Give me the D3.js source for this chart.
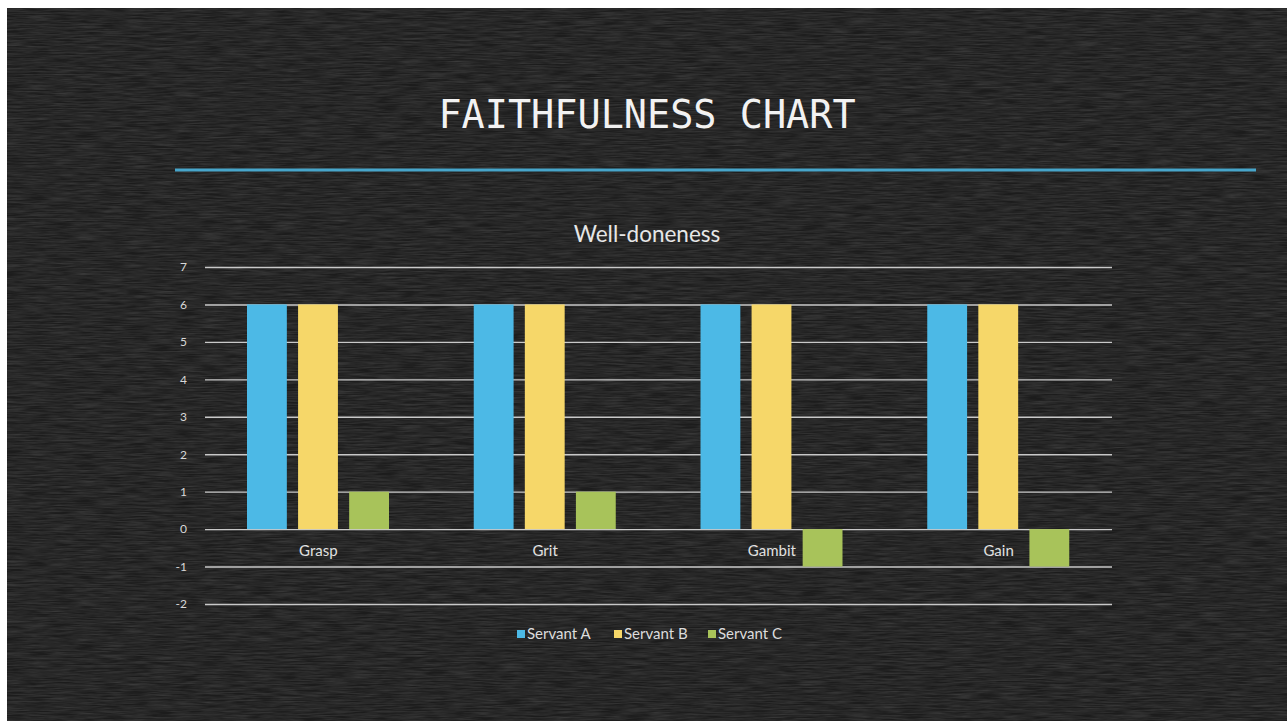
<!DOCTYPE html>
<html>
<head>
<meta charset="utf-8">
<script src="https://cdn.jsdelivr.net/npm/d3@7"></script>
<style>
  html, body { margin: 0; padding: 0; background: #fff; }
  svg { display: block; }
</style>
</head>
<body>
<div id="chart"></div>
<script>
// Data
var categories = ["Grasp", "Grit", "Gambit", "Gain"];
var seriesNames = ["Servant A", "Servant B", "Servant C"];
var servantA = [6, 6, 6, 6];
var servantB = [6, 6, 6, 6];
var servantC = [1, 1, -1, -1];
var yTicks = [-2, -1, 0, 1, 2, 3, 4, 5, 6, 7];

var colors = ["#4cb9e6", "#f6d769", "#a8c35a"];

var W = 1287, H = 721;

var svg = d3.select("#chart")
  .append("svg")
  .attr("width", W)
  .attr("height", H);

// chalkboard texture
var defs = svg.append("defs");
var f = defs.append("filter").attr("id", "chalk").attr("x", 0).attr("y", 0)
  .attr("width", "100%").attr("height", "100%");
f.append("feTurbulence")
  .attr("type", "fractalNoise")
  .attr("baseFrequency", "0.04 0.7")
  .attr("numOctaves", 3)
  .attr("seed", 4);
f.append("feColorMatrix")
  .attr("type", "matrix")
  .attr("values", "0 0 0 0 1  0 0 0 0 1  0 0 0 0 1  0 0 0 0.2 -0.05");
f.append("feComposite").attr("in2", "SourceGraphic").attr("operator", "in");

svg.append("rect").attr("width", W).attr("height", H).attr("fill", "#fff");
svg.append("rect")
  .attr("x", 7).attr("y", 8)
  .attr("width", W - 7).attr("height", H - 8)
  .attr("fill", "#1c1c1c");
svg.append("rect")
  .attr("x", 7).attr("y", 8)
  .attr("width", W - 7).attr("height", H - 8)
  .attr("fill", "#1c1c1c")
  .attr("filter", "url(#chalk)");

// Slide title
svg.append("text")
  .attr("x", 647).attr("y", 128)
  .attr("text-anchor", "middle")
  .attr("font-family", "'DejaVu Sans Mono', monospace")
  .attr("font-size", 38.5)
  .attr("fill", "#f2f2f2")
  .text("FAITHFULNESS CHART");

svg.append("line")
  .attr("x1", 175).attr("x2", 1256)
  .attr("y1", 170).attr("y2", 170)
  .attr("stroke", "#4bb3dc")
  .attr("stroke-width", 3)
  .attr("opacity", 0.9);

// Chart title
svg.append("text")
  .attr("x", 647).attr("y", 242)
  .attr("text-anchor", "middle")
  .attr("font-family", "Lato, 'Open Sans', sans-serif")
  .attr("font-size", 22.5)
  .attr("fill", "#e6e6e6")
  .text("Well-doneness");

// Scales
var margin = {left: 205, right: 1112, top: 267, bottom: 604};
var x = d3.scaleBand().domain(categories).range([margin.left, margin.right]);
var y = d3.scaleLinear().domain([-2, 7]).range([margin.bottom, margin.top]);
var x1 = d3.scaleBand().domain(seriesNames).range([42, 42 + 142]).paddingInner(0.22);

// Grid and y axis
var yAxis = d3.axisLeft(y).tickValues(yTicks).tickFormat(d => String(d))
  .tickSize(-(margin.right - margin.left)).tickPadding(18);
var gy = svg.append("g")
  .attr("transform", "translate(" + margin.left + ",0)")
  .call(yAxis);
gy.select(".domain").remove();
gy.selectAll(".tick line").attr("stroke", "#c8c8c8").attr("stroke-width", 1.4);
gy.selectAll(".tick text")
  .attr("fill", "#d8d8d8")
  .attr("font-family", "Lato, 'Open Sans', sans-serif")
  .attr("font-size", 12);

// Bars
var series = [servantA, servantB, servantC];
series.forEach(function(vals, s) {
  svg.append("g").selectAll("rect")
    .data(vals)
    .join("rect")
    .attr("x", (d, i) => x(categories[i]) + x1(seriesNames[s]))
    .attr("width", x1.bandwidth())
    .attr("y", d => y(Math.max(0, d)))
    .attr("height", d => Math.abs(y(d) - y(0)))
    .attr("fill", colors[s]);
});

// Category labels
svg.append("g").selectAll("text")
  .data(categories)
  .join("text")
  .attr("x", d => x(d) + x.bandwidth() / 2)
  .attr("y", y(0) + 27)
  .attr("text-anchor", "middle")
  .attr("font-family", "Lato, 'Open Sans', sans-serif")
  .attr("font-size", 15)
  .attr("fill", "#e0e0e0")
  .text(d => d);

// Legend
var legendX = [517, 614, 708];
var lg = svg.append("g").selectAll("g")
  .data(seriesNames)
  .join("g")
  .attr("transform", (d, i) => "translate(" + legendX[i] + ",630)");
lg.append("rect")
  .attr("width", 8).attr("height", 8)
  .attr("fill", (d, i) => colors[i]);
lg.append("text")
  .attr("x", 10).attr("y", 9)
  .attr("font-family", "Lato, 'Open Sans', sans-serif")
  .attr("font-size", 15)
  .attr("fill", "#dcdcdc")
  .text(d => d);
</script>
</body>
</html>
